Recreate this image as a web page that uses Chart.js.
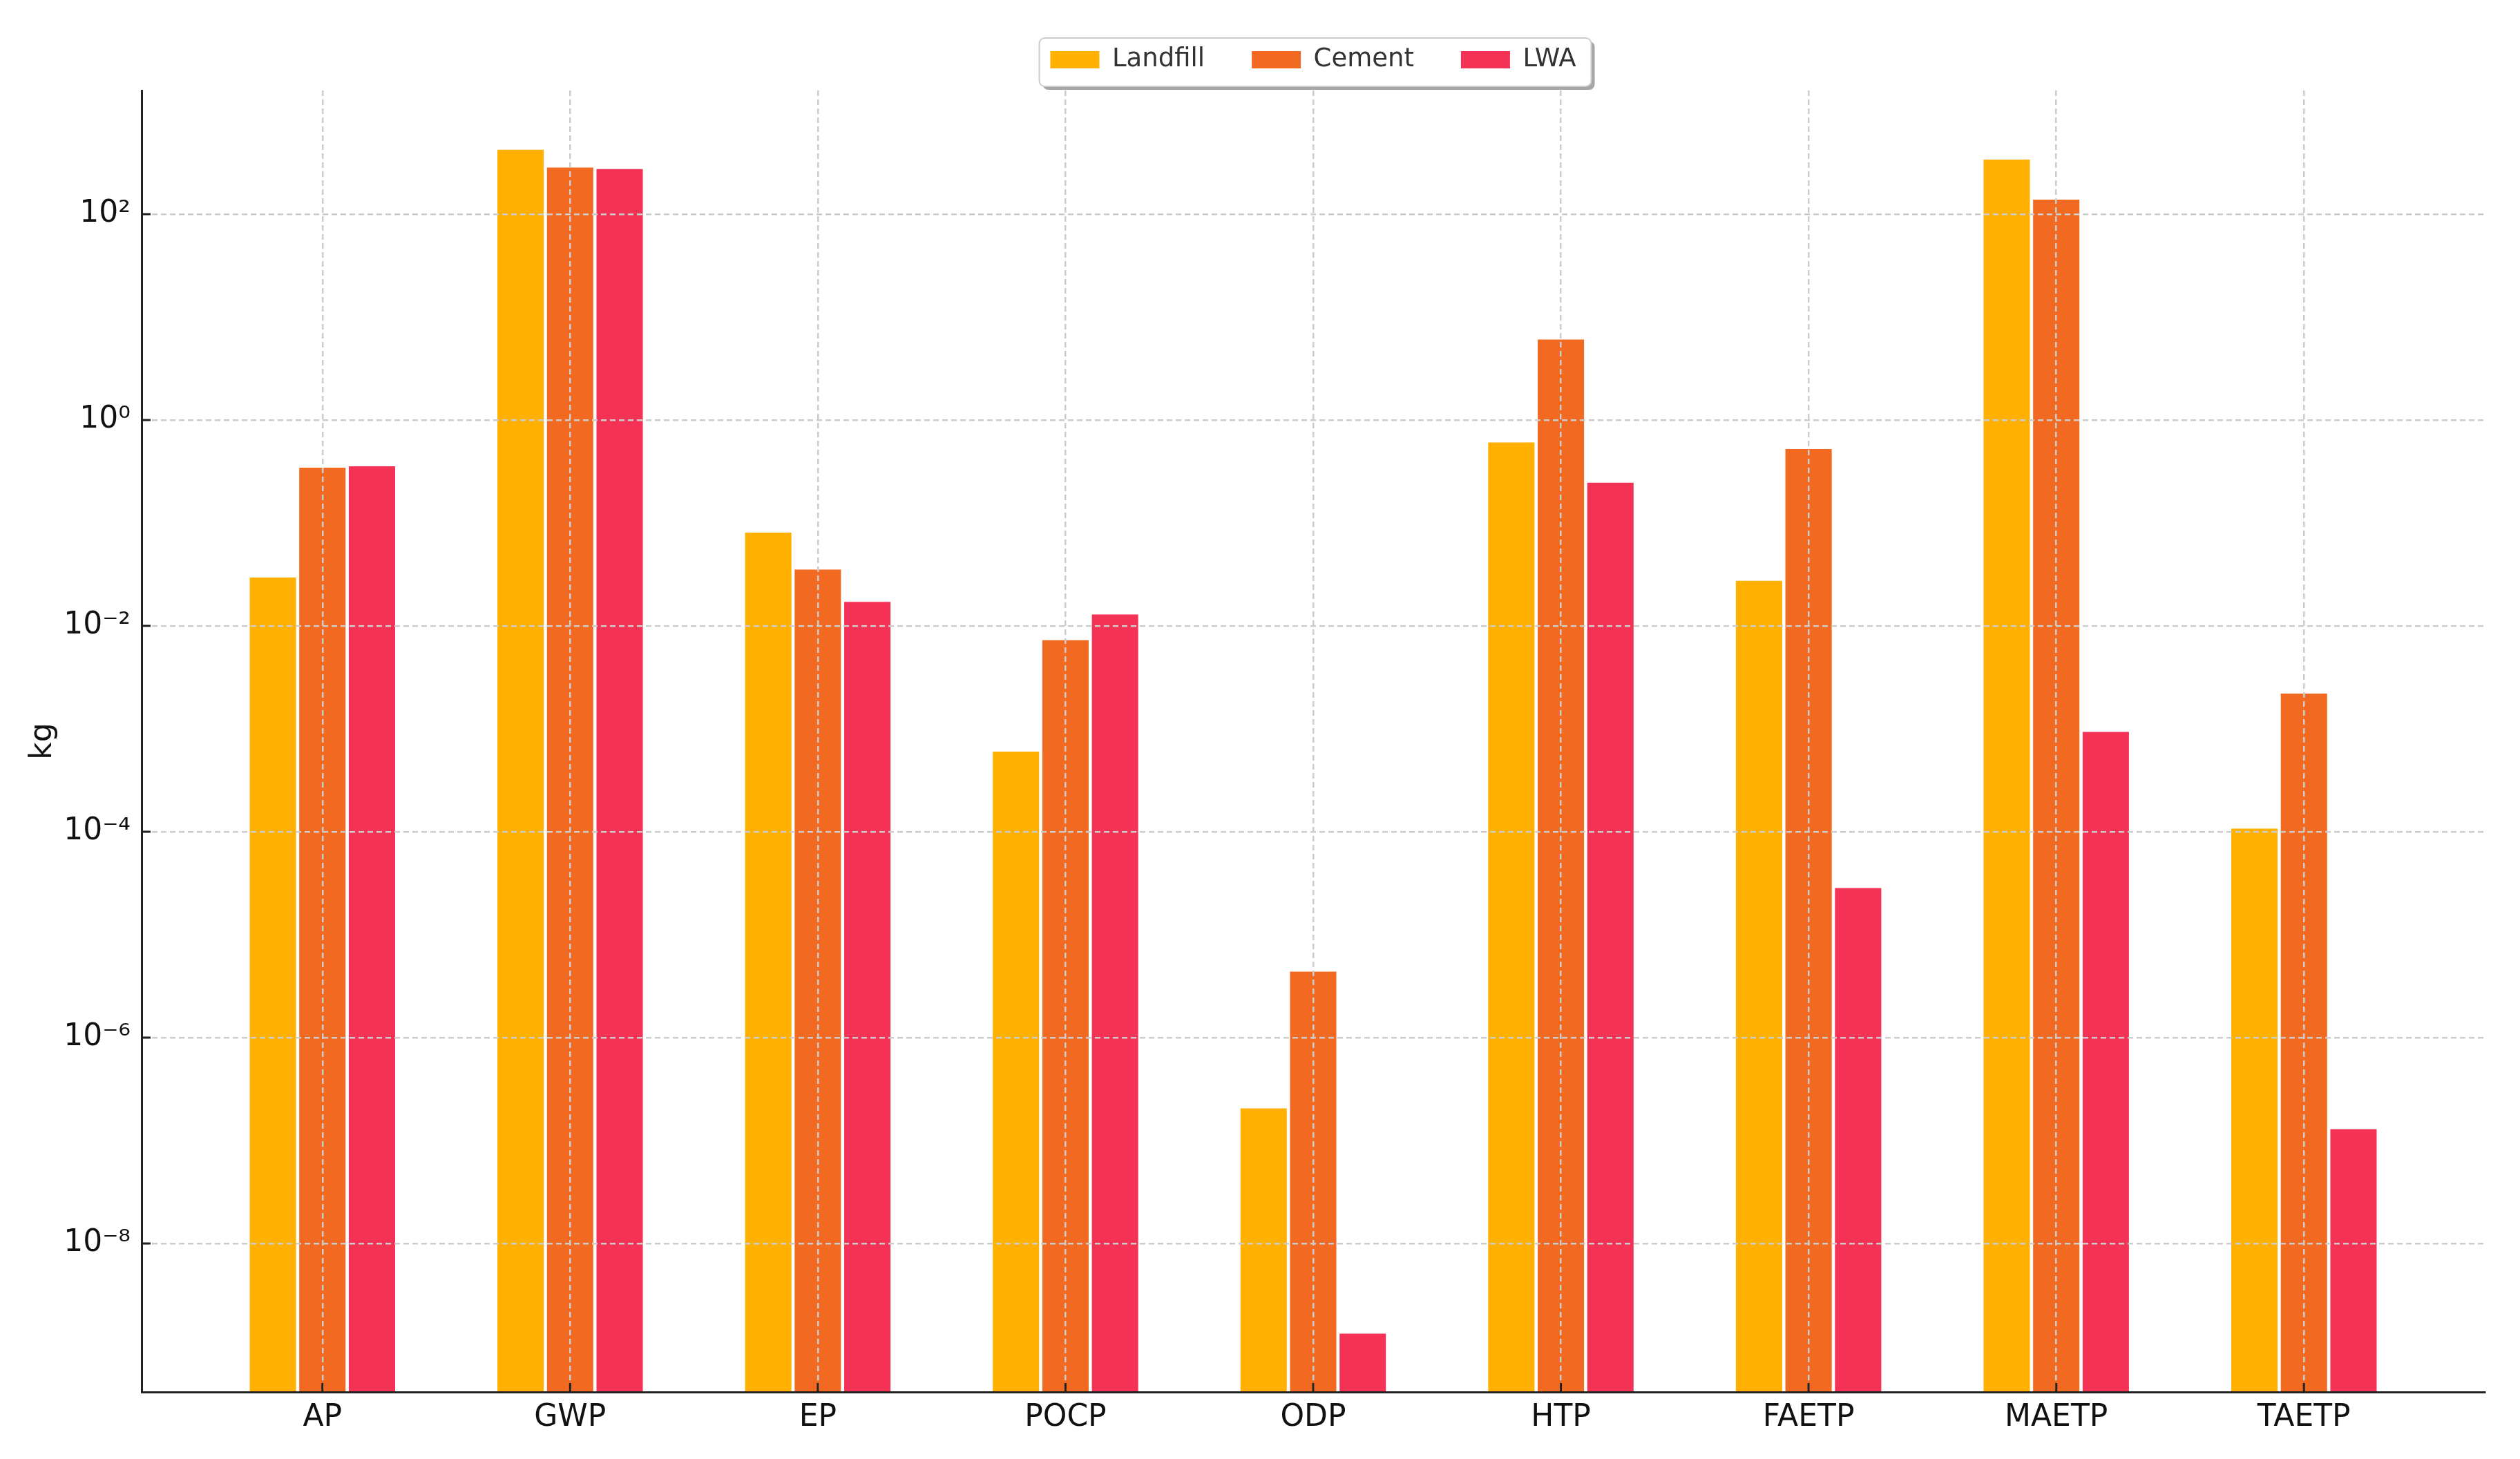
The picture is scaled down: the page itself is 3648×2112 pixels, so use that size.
<!DOCTYPE html>
<html>
<head>
<meta charset="utf-8">
<script src="https://cdn.jsdelivr.net/npm/chart.js@4/dist/chart.umd.min.js"></script>
<style>
  html, body { margin: 0; padding: 0; background: #fff; }
  #wrap { width: 3648px; height: 2112px; }
</style>
</head>
<body>
<div id="wrap"><canvas id="myChart" width="3648" height="2112"></canvas></div>
<script>
"use strict";

// DATA
const categories = ["AP", "GWP", "EP", "POCP", "ODP", "HTP", "FAETP", "MAETP", "TAETP"];
const landfill = [0.0295, 422, 0.0805, 6.0e-4, 2.05e-7, 0.604, 0.0274, 339, 1.07e-4];
const cement = [0.344, 284, 0.0352, 0.00724, 4.37e-6, 6.04, 0.523, 138, 0.0022];
const lwa = [0.355, 274, 0.0171, 0.0129, 1.33e-9, 0.246, 2.84e-5, 9.3e-4, 1.29e-7];
const yTicks = [1e-8, 1e-6, 1e-4, 1e-2, 1, 1e2];
const yTickLabels = ["10⁻⁸", "10⁻⁶", "10⁻⁴", "10⁻²", "10⁰", "10²"];

const toPoints = (arr) => arr.map((v, i) => ({ x: i, y: v }));

// legend frame with a drop shadow
const legendFrame = {
  id: "legendFrame",
  beforeDraw(chart) {
    const boxes = chart.legend && chart.legend.legendHitBoxes;
    if (!boxes || !boxes.length) return;
    const left = Math.min(...boxes.map((b) => b.left)) - 16;
    const right = Math.max(...boxes.map((b) => b.left + b.width)) + 22;
    const top = boxes[0].top - 13;
    const bottom = boxes[0].top + boxes[0].height + 20;
    const ctx = chart.ctx;
    ctx.save();
    ctx.fillStyle = "rgba(0,0,0,0.35)";
    ctx.beginPath();
    ctx.roundRect(left + 5, top + 5, right - left, bottom - top, 8);
    ctx.fill();
    ctx.fillStyle = "#fff";
    ctx.strokeStyle = "#cccccc";
    ctx.lineWidth = 2;
    ctx.beginPath();
    ctx.roundRect(left, top, right - left, bottom - top, 8);
    ctx.fill();
    ctx.stroke();
    ctx.restore();
  },
};

// matplotlib style inward tick marks
const inwardTicks = {
  id: "inwardTicks",
  afterDraw(chart) {
    const { ctx, chartArea, scales } = chart;
    ctx.save();
    ctx.strokeStyle = "#222";
    ctx.lineWidth = 3;
    ctx.beginPath();
    scales.y.ticks.forEach((t, i) => {
      const y = scales.y.getPixelForTick(i);
      ctx.moveTo(chartArea.left, y);
      ctx.lineTo(chartArea.left + 13, y);
    });
    scales.x.ticks.forEach((t, i) => {
      const x = scales.x.getPixelForTick(i);
      ctx.moveTo(x, chartArea.bottom);
      ctx.lineTo(x, chartArea.bottom - 13);
    });
    ctx.stroke();
    ctx.restore();
  },
};

const gridStyle = {
  color: "#cccccc",
  lineWidth: 2.5,
  drawTicks: false,
  offset: false,
  z: 1,
};

const ctx = document.getElementById("myChart").getContext("2d");
const myChart = new Chart(ctx, {
  type: "bar",
  data: {
    datasets: [
      { label: "Landfill", data: toPoints(landfill), backgroundColor: "#FFB000", xAxisID: "x" },
      { label: "Cement", data: toPoints(cement), backgroundColor: "#F26921", xAxisID: "x" },
      { label: "LWA", data: toPoints(lwa), backgroundColor: "#F43256", xAxisID: "x" },
    ],
  },
  options: {
    responsive: false,
    animation: false,
    devicePixelRatio: 1,
    categoryPercentage: 0.6,
    barPercentage: 0.935,
    layout: { padding: { top: 0, left: 10, right: 51, bottom: 0 } },
    plugins: {
      tooltip: { enabled: false },
      legend: {
        position: "top",
        fullSize: false,
        labels: {
          color: "#333",
          boxWidth: 71,
          boxHeight: 25,
          padding: 68,
          font: { family: "DejaVu Sans", size: 37 },
        },
      },
    },
    scales: {
      x: {
        type: "linear",
        bounds: "data",
        offset: false,
        min: -0.73,
        max: 8.73,
        afterBuildTicks: (scale) => {
          scale.ticks = categories.map((c, i) => ({ value: i }));
        },
        afterFit: (scale) => {
          scale.height = 97;
        },
        ticks: {
          autoSkip: false,
          maxRotation: 0,
          padding: 11,
          color: "#111",
          font: { family: "DejaVu Sans", size: 44 },
          callback: (v) => categories[v],
        },
        grid: gridStyle,
        border: { display: true, color: "#222", width: 3, dash: [8, 5], z: 2 },
      },
      // empty spacer between legend and plot area
      spacer: {
        type: "linear",
        axis: "x",
        position: "top",
        ticks: { display: false },
        grid: { display: false },
        border: { display: false },
        afterFit: (scale) => {
          scale.height = 16;
        },
      },
      y: {
        type: "logarithmic",
        bounds: "data",
        min: 3.6e-10,
        max: 1589,
        afterBuildTicks: (scale) => {
          scale.ticks = yTicks.map((v) => ({ value: v, major: true }));
        },
        afterFit: (scale) => {
          scale.width = 195;
        },
        ticks: {
          padding: 16,
          color: "#111",
          font: { family: "DejaVu Sans", size: 44 },
          callback: (v) => yTickLabels[yTicks.indexOf(v)],
        },
        title: {
          display: true,
          text: "kg",
          color: "#111",
          font: { family: "DejaVu Sans", size: 44 },
          padding: { top: 26, bottom: 0 },
        },
        grid: gridStyle,
        border: { display: true, color: "#222", width: 3, dash: [8, 5], z: 2 },
      },
    },
  },
  plugins: [legendFrame, inwardTicks],
});
</script>
</body>
</html>
